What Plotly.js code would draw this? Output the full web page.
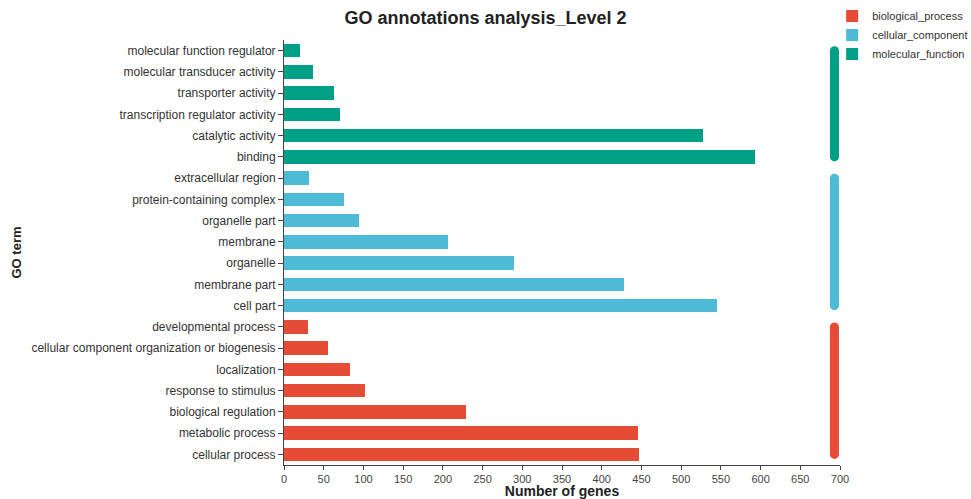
<!DOCTYPE html>
<html>
<head>
<meta charset="utf-8">
<script src="https://cdn.plot.ly/plotly-3.0.1.min.js"></script>
<style>html,body{margin:0;padding:0;background:#fff;}#chart{width:971px;height:499px;}</style>
</head>
<body>
<div id="chart"></div>
<script>
// Categories, top to bottom
const mfTerms = ["molecular function regulator", "molecular transducer activity", "transporter activity", "transcription regulator activity", "catalytic activity", "binding"];
const mfCounts = [20, 37, 63, 71, 527, 593];
const ccTerms = ["extracellular region", "protein-containing complex", "organelle part", "membrane", "organelle", "membrane part", "cell part"];
const ccCounts = [31, 75, 94, 207, 289, 428, 545];
const bpTerms = ["developmental process", "cellular component organization or biogenesis", "localization", "response to stimulus", "biological regulation", "metabolic process", "cellular process"];
const bpCounts = [30, 56, 83, 102, 229, 446, 447];
const groupNames = ["biological_process", "cellular_component", "molecular_function"];
const xTicks = [0, 50, 100, 150, 200, 250, 300, 350, 400, 450, 500, 550, 600, 650, 700];
const sideBarX = 693;

const colors = {biological_process: "#E64B35", cellular_component: "#4DBBD5", molecular_function: "#00A087"};
const allTerms = mfTerms.concat(ccTerms, bpTerms);

function barTrace(name, terms, counts) {
  return {type: "bar", orientation: "h", name: name, x: counts, y: terms,
    marker: {color: colors[name], line: {width: 0}}, hoverinfo: "x+y"};
}
function sideTrace(name, terms) {
  return {type: "scatter", mode: "lines+markers", showlegend: false, hoverinfo: "skip",
    x: [sideBarX, sideBarX], y: [terms[0], terms[terms.length - 1]],
    line: {color: colors[name], width: 9}, marker: {color: colors[name], size: 9, symbol: "circle"}};
}

const data = [
  barTrace(groupNames[0], bpTerms, bpCounts),
  barTrace(groupNames[1], ccTerms, ccCounts),
  barTrace(groupNames[2], mfTerms, mfCounts),
  sideTrace("molecular_function", mfTerms),
  sideTrace("cellular_component", ccTerms),
  sideTrace("biological_process", bpTerms)
];

const layout = {
  width: 971, height: 499,
  margin: {l: 284, r: 131, t: 40, b: 34, autoexpand: false},
  paper_bgcolor: "#fff", plot_bgcolor: "#fff",
  font: {family: "Liberation Sans, Arial, sans-serif", size: 12, color: "#333"},
  title: {text: "<b>GO annotations analysis_Level 2</b>", x: 0.5, xref: "container", xanchor: "center",
    y: 0.978, yref: "container", yanchor: "top", font: {size: 18, color: "#222"}},
  barmode: "stack", bargap: 0.36,
  showlegend: true,
  legend: {xref: "container", yref: "container", x: 0.857, xanchor: "left", y: 0.997, yanchor: "top",
    font: {size: 11, color: "#333"}, traceorder: "normal", tracegroupgap: 0, itemwidth: 30,
    bgcolor: "rgba(0,0,0,0)"},
  xaxis: {range: [0, 700], tickvals: xTicks, ticktext: xTicks.map(String), showgrid: false, zeroline: false,
    showline: true, linecolor: "#444", linewidth: 1, ticks: "outside", ticklen: 4, tickcolor: "#444",
    tickfont: {size: 11, color: "#444"}, automargin: false,
    title: {text: "<b>Number of genes</b>", font: {size: 14, color: "#222"}, standoff: 5}},
  yaxis: {type: "category", categoryorder: "array", categoryarray: allTerms, range: [allTerms.length - 0.5, -0.5],
    autorange: false,
    showgrid: false, zeroline: false, showline: true, linecolor: "#444", linewidth: 1, automargin: false,
    ticks: "outside", ticklen: 5, tickcolor: "#444", tickfont: {size: 12, color: "#333"},
    title: {text: "<b>GO term</b>", font: {size: 13, color: "#222"}, standoff: 6}}
};

Plotly.newPlot("chart", data, layout, {displayModeBar: false, staticPlot: true});
</script>
</body>
</html>
